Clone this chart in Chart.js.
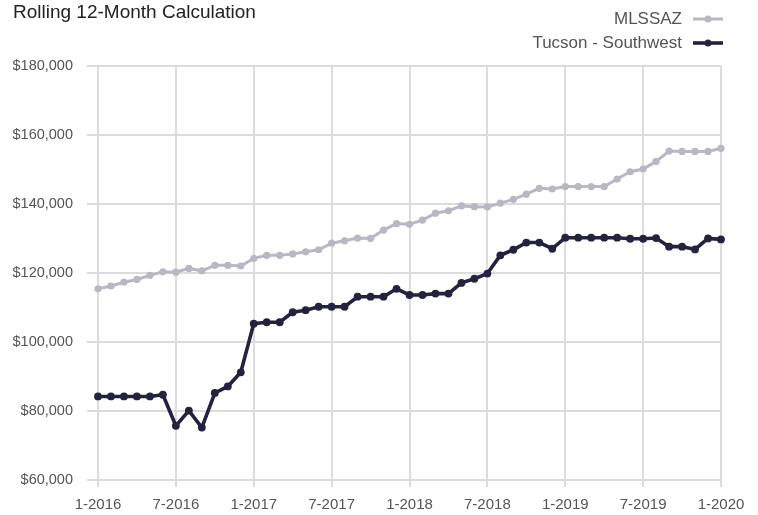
<!DOCTYPE html>
<html>
<head>
<meta charset="utf-8">
<title>Rolling 12-Month Calculation</title>
<script src="https://cdn.jsdelivr.net/npm/chart.js@4.4.0/dist/chart.umd.min.js"></script>
<style>
  html, body { margin: 0; padding: 0; background: #fff; }
  #wrap { width: 758px; height: 515px; }
</style>
</head>
<body>
<div id="wrap"><canvas id="rollingChart" width="758" height="515"></canvas></div>
<script>
// ====== Data ======
const months = [
  '1-2016', '2-2016', '3-2016', '4-2016', '5-2016', '6-2016',
  '7-2016', '8-2016', '9-2016', '10-2016', '11-2016', '12-2016',
  '1-2017', '2-2017', '3-2017', '4-2017', '5-2017', '6-2017',
  '7-2017', '8-2017', '9-2017', '10-2017', '11-2017', '12-2017',
  '1-2018', '2-2018', '3-2018', '4-2018', '5-2018', '6-2018',
  '7-2018', '8-2018', '9-2018', '10-2018', '11-2018', '12-2018',
  '1-2019', '2-2019', '3-2019', '4-2019', '5-2019', '6-2019',
  '7-2019', '8-2019', '9-2019', '10-2019', '11-2019', '12-2019',
  '1-2020'
];

const mlssaz = [
  115400, 116200, 117300, 118100, 119300, 120300,
  120200, 121300, 120600, 122200, 122200, 122000,
  124200, 125100, 125100, 125500, 126100, 126700,
  128600, 129300, 130100, 130000, 132400, 134300,
  134100, 135300, 137300, 138000, 139400, 139200,
  139100, 140200, 141300, 142800, 144500, 144300,
  145000, 145000, 145000, 145000, 147200, 149300,
  150100, 152300, 155300, 155200, 155200, 155200,
  156100
];

const tucsonSW = [
  84200, 84200, 84200, 84200, 84200, 84700,
  75700, 80100, 75200, 85200, 87100, 91200,
  105300, 105700, 105700, 108600, 109200, 110200,
  110200, 110200, 113100, 113100, 113100, 115400,
  113600, 113600, 114000, 114000, 117100, 118300,
  119800, 125100, 126700, 128800, 128800, 127000,
  130200, 130200, 130200, 130200, 130200, 129900,
  129900, 130100, 127600, 127600, 126800, 130000,
  129700
];

const xTickLabels = ['1-2016', '7-2016', '1-2017', '7-2017', '1-2018', '7-2018', '1-2019', '7-2019', '1-2020'];

const FONT = '"Liberation Sans", Arial, sans-serif';
const GRID = '#dcdcdc';

// legend drawn top-right: label text, then a line sample with a dot
const sideLegend = {
  id: 'sideLegend',
  afterDraw(chart) {
    const ctx = chart.ctx;
    ctx.save();
    ctx.font = '17px ' + FONT;
    ctx.textAlign = 'right';
    ctx.textBaseline = 'middle';
    chart.data.datasets.forEach((ds, i) => {
      const y = 19 + i * 24;
      ctx.fillStyle = '#555';
      ctx.fillText(ds.label, 682, y);
      ctx.strokeStyle = ds.borderColor;
      ctx.lineWidth = ds.borderWidth;
      ctx.beginPath();
      ctx.moveTo(693, y);
      ctx.lineTo(723, y);
      ctx.stroke();
      ctx.fillStyle = ds.borderColor;
      ctx.beginPath();
      ctx.arc(708, y, 3.5, 0, Math.PI * 2);
      ctx.fill();
    });
    ctx.restore();
  }
};

const ctx = document.getElementById('rollingChart').getContext('2d');
const rollingChart = new Chart(ctx, {
  type: 'line',
  data: {
    labels: months,
    datasets: [
      {
        label: 'MLSSAZ',
        data: mlssaz,
        borderColor: '#b8b7c4',
        backgroundColor: '#b8b7c4',
        borderWidth: 3,
        pointRadius: 3.6,
        pointBorderWidth: 0,
        pointHoverRadius: 4,
        tension: 0
      },
      {
        label: 'Tucson - Southwest',
        data: tucsonSW,
        borderColor: '#23233f',
        backgroundColor: '#23233f',
        borderWidth: 3.6,
        pointRadius: 3.9,
        pointBorderWidth: 0,
        pointHoverRadius: 4,
        tension: 0
      }
    ]
  },
  options: {
    responsive: false,
    animation: false,
    layout: {
      padding: { left: 13, right: 37, top: 0, bottom: 0 }
    },
    plugins: {
      legend: { display: false },
      tooltip: { enabled: false },
      title: {
        display: true,
        text: 'Rolling 12-Month Calculation',
        align: 'start',
        color: '#222',
        font: { family: FONT, size: 19, weight: 'normal', lineHeight: 1.2 },
        padding: { top: 1, bottom: 42 }
      }
    },
    scales: {
      x: {
        type: 'category',
        grid: { color: GRID, lineWidth: 2, tickLength: 7, tickColor: GRID },
        border: { color: GRID, width: 2 },
        ticks: {
          autoSkip: false,
          maxRotation: 0,
          padding: 9,
          color: '#555',
          font: { family: FONT, size: 15 },
          callback: function (value) {
            const label = this.getLabelForValue(value);
            return xTickLabels.includes(label) ? label : null;
          }
        },
        afterFit(scale) { scale.height = 35; }
      },
      y: {
        min: 60000,
        max: 180000,
        grid: { color: GRID, lineWidth: 2, tickLength: 11, tickColor: GRID },
        border: { color: GRID, width: 2 },
        ticks: {
          stepSize: 20000,
          padding: 14,
          color: '#555',
          font: { family: FONT, size: 14.5 },
          callback: (v) => '$' + v.toLocaleString('en-US')
        },
        afterFit(scale) { scale.width = 85; }
      }
    }
  },
  plugins: [sideLegend]
});
</script>
</body>
</html>
